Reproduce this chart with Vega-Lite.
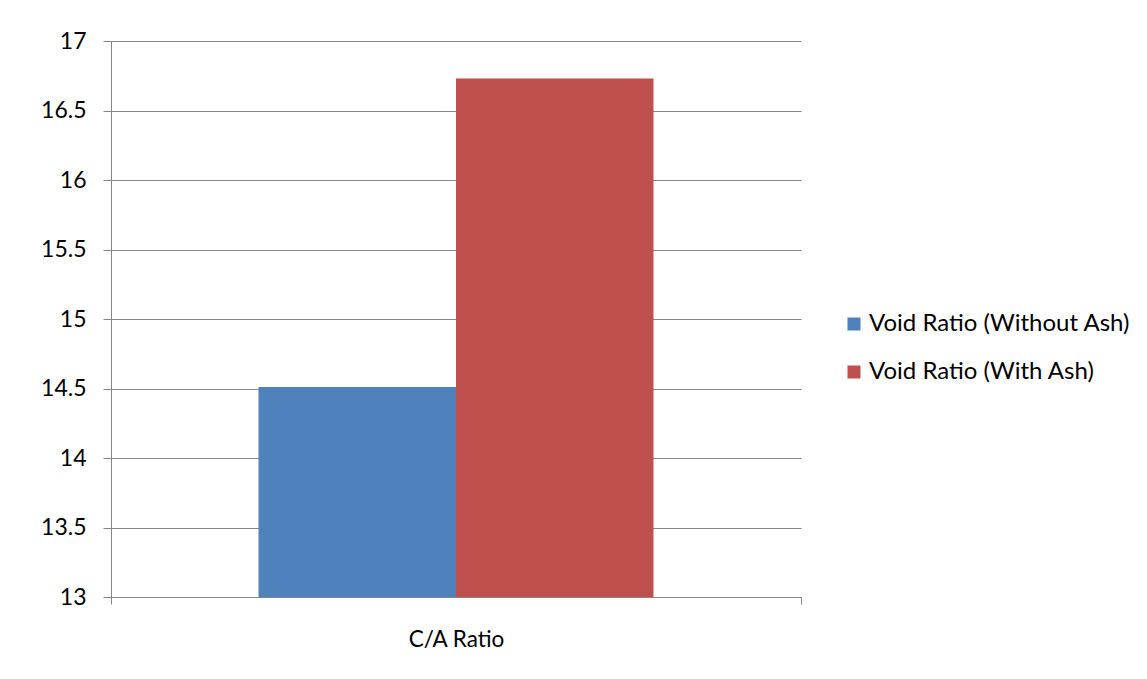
{
  "$schema": "https://vega.github.io/schema/vega-lite/v6.json",
  "width": 690,
  "height": 556,
  "autosize": "none",
  "padding": {"left": 111, "top": 41, "right": 346, "bottom": 82},
  "background": "white",
  "data": {
    "values": [
      {"category": "C/A Ratio", "series": "Void Ratio (Without Ash)", "value": 14.51},
      {"category": "C/A Ratio", "series": "Void Ratio (With Ash)", "value": 16.73}
    ]
  },
  "mark": {"type": "bar", "clip": true},
  "encoding": {
    "x": {
      "field": "category",
      "type": "nominal",
      "scale": {"paddingInner": 0, "paddingOuter": 0},
      "axis": {
        "title": null,
        "labelAngle": 0,
        "tickBand": "extent",
        "tickSize": 7,
        "labelPadding": 24,
        "domainColor": "#868686",
        "tickColor": "#868686",
        "labelFontSize": 22.5,
        "labelFont": "Lato",
        "labelColor": "#000000"
      }
    },
    "xOffset": {
      "field": "series",
      "type": "nominal",
      "sort": ["Void Ratio (Without Ash)", "Void Ratio (With Ash)"],
      "scale": {"paddingInner": 0, "paddingOuter": 0.747}
    },
    "y": {
      "field": "value",
      "type": "quantitative",
      "scale": {"domain": [13, 17], "zero": false, "nice": false},
      "axis": {
        "title": null,
        "values": [13, 13.5, 14, 14.5, 15, 15.5, 16, 16.5, 17],
        "format": "~g",
        "grid": true,
        "gridColor": "#868686",
        "tickSize": 8,
        "labelPadding": 17,
        "domainColor": "#868686",
        "tickColor": "#868686",
        "labelFontSize": 23,
        "labelFont": "Lato",
        "labelColor": "#000000"
      }
    },
    "color": {
      "field": "series",
      "type": "nominal",
      "sort": ["Void Ratio (Without Ash)", "Void Ratio (With Ash)"],
      "scale": {"range": ["#4F81BD", "#C0504D"]},
      "legend": {
        "title": null,
        "orient": "none",
        "legendX": 731,
        "legendY": 271,
        "symbolType": "square",
        "symbolSize": 169,
        "symbolStrokeWidth": 0,
        "rowPadding": 24,
        "labelOffset": 3,
        "labelFontSize": 24,
        "labelFont": "Lato",
        "labelColor": "#000000",
        "labelLimit": 400
      }
    }
  },
  "config": {
    "view": {"stroke": null},
    "axis": {"gridWidth": 1, "domainWidth": 1}
  }
}
